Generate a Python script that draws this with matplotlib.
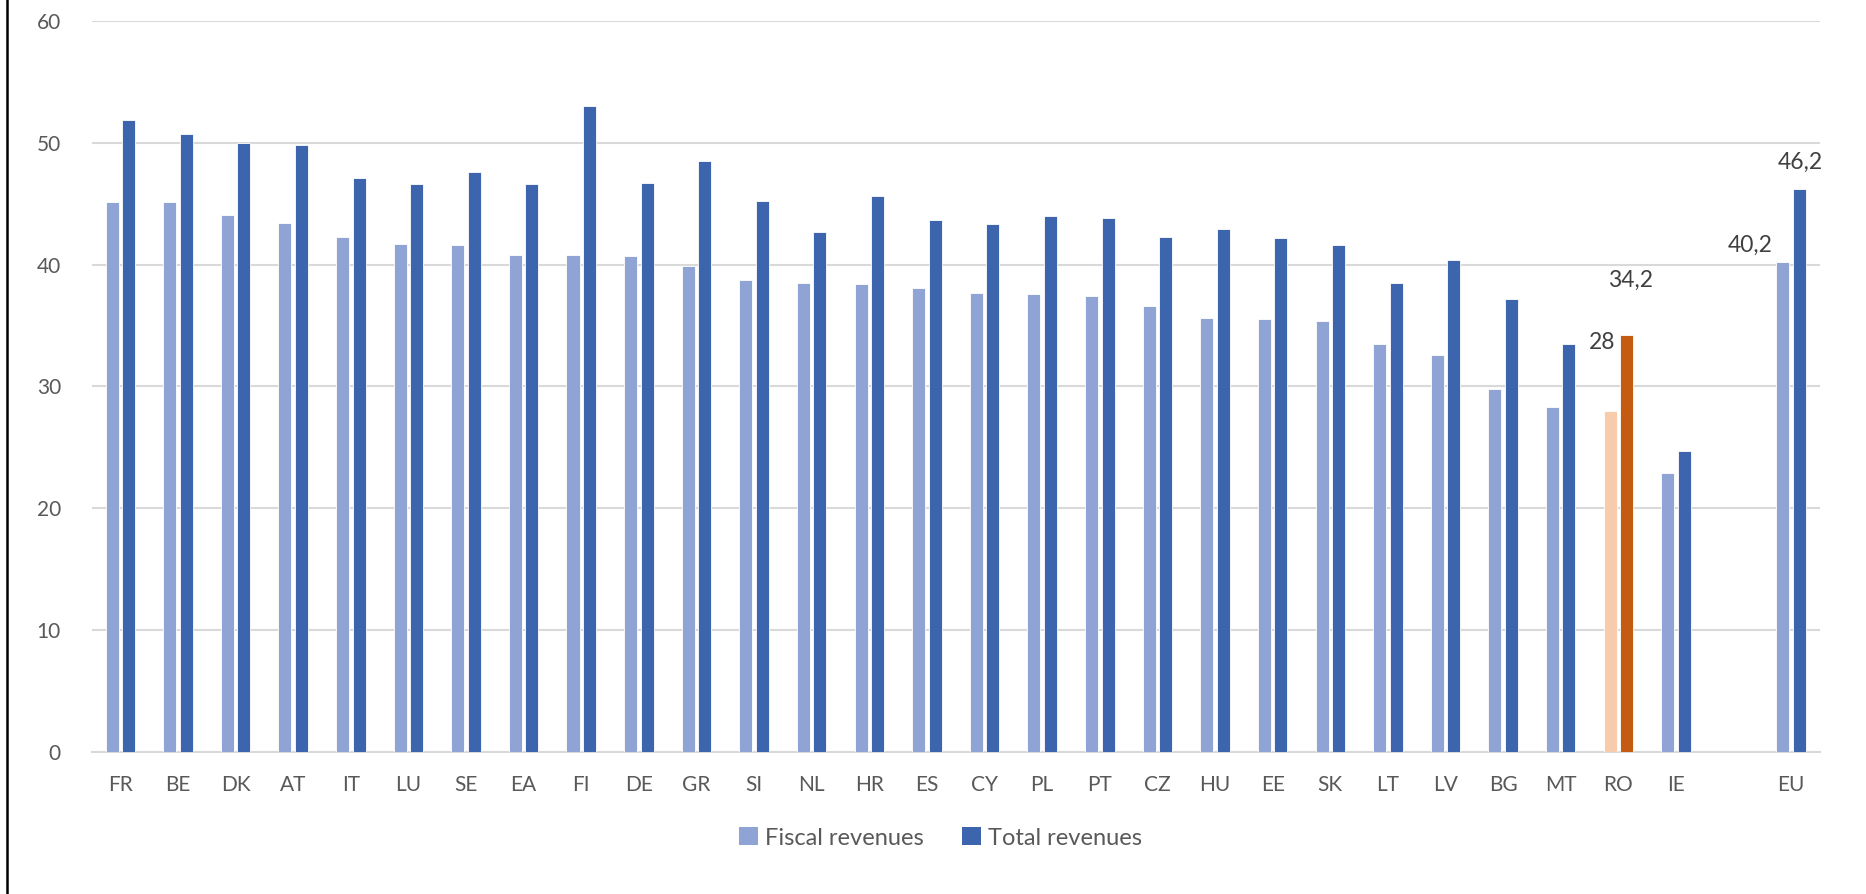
import matplotlib
matplotlib.use("Agg")
import matplotlib.pyplot as plt
from matplotlib.patches import Patch
from matplotlib.lines import Line2D
import numpy as np

plt.rcParams['font.family'] = ['Lato', 'DejaVu Sans']

countries = ["FR", "BE", "DK", "AT", "IT", "LU", "SE", "EA", "FI", "DE", "GR", "SI", "NL", "HR",
             "ES", "CY", "PL", "PT", "CZ", "HU", "EE", "SK", "LT", "LV", "BG", "MT", "RO", "IE", "", "EU"]
fiscal = [45.1, 45.1, 44.1, 43.4, 42.3, 41.7, 41.6, 40.8, 40.8, 40.7, 39.9, 38.7, 38.5, 38.4,
          38.1, 37.7, 37.6, 37.4, 36.6, 35.6, 35.5, 35.4, 33.5, 32.6, 29.8, 28.3, 28.0, 22.9, np.nan, 40.2]
total = [51.9, 50.7, 50.0, 49.8, 47.1, 46.6, 47.6, 46.6, 53.0, 46.7, 48.5, 45.2, 42.7, 45.6,
         43.7, 43.3, 44.0, 43.8, 42.3, 42.9, 42.2, 41.6, 38.5, 40.4, 37.2, 33.5, 34.2, 24.7, np.nan, 46.2]
labels = {"RO": ("28", "34,2"), "EU": ("40,2", "46,2")}
highlight = "RO"

c_fiscal = "#8FA4D4"
c_total = "#3C65AD"
c_fiscal_hl = "#F8CBAD"
c_total_hl = "#C55A11"
grid_c = "#D9D9D9"
tick_c = "#595959"
lab_c = "#404040"

fig = plt.figure(figsize=(18.66, 8.94), dpi=100)
ax = fig.add_axes([91.5 / 1866, 1 - 751.7 / 894, (1820 - 91.5) / 1866, (751.7 - 21) / 894])

x = np.arange(len(countries))
w = 0.226
off = 0.143
fc = [c_fiscal_hl if c == highlight else c_fiscal for c in countries]
tc = [c_total_hl if c == highlight else c_total for c in countries]
ax.bar(x - off, fiscal, width=w, color=fc, edgecolor="white", linewidth=0.6, zorder=3)
ax.bar(x + off, total, width=w, color=tc, edgecolor="white", linewidth=0.6, zorder=3)

ax.set_xlim(-0.5, len(countries) - 0.5)
ax.set_ylim(0, 60)
ax.set_yticks(np.arange(0, 61, 10))
ax.set_xticks(x)
ax.set_xticklabels(countries)
ax.yaxis.grid(True, color=grid_c, linewidth=1.5, zorder=0)
ax.set_axisbelow(True)
for s in ["top", "right", "left"]:
    ax.spines[s].set_visible(False)
ax.spines["bottom"].set_color(grid_c)
ax.spines["bottom"].set_linewidth(1.5)
ax.tick_params(axis="both", length=0, colors=tick_c, labelsize=15)
ax.tick_params(axis="x", pad=17)
ax.tick_params(axis="y", pad=22)

# data labels (positioned as in reference)
i_ro = countries.index("RO")
i_eu = countries.index("EU")
ax.text(i_ro - 0.05, fiscal[i_ro] + 5.6, labels["RO"][0], ha="right", va="center", fontsize=16.5, color=lab_c)
ax.text(i_ro + 0.21, total[i_ro] + 4.5, labels["RO"][1], ha="center", va="center", fontsize=16.5, color=lab_c)
ax.text(i_eu - 0.71, fiscal[i_eu] + 1.4, labels["EU"][0], ha="center", va="center", fontsize=16.5, color=lab_c)
ax.text(i_eu + 0.15, total[i_eu] + 2.2, labels["EU"][1], ha="center", va="center", fontsize=16.5, color=lab_c)

handles = [Patch(facecolor=c_fiscal, label="Fiscal revenues"),
           Patch(facecolor=c_total, label="Total revenues")]
fig.legend(handles=handles, loc="center", bbox_to_anchor=(0.504, 1 - 838 / 894), ncol=2,
           frameon=False, fontsize=17, handlelength=0.8, handleheight=0.8, handletextpad=0.3,
           columnspacing=1.6, labelcolor=tick_c)

fig.add_artist(Line2D([7 / 1866, 7 / 1866], [0, 1], transform=fig.transFigure, color="black", linewidth=1.8))

fig.savefig("out.png", dpi=100, facecolor="white")
